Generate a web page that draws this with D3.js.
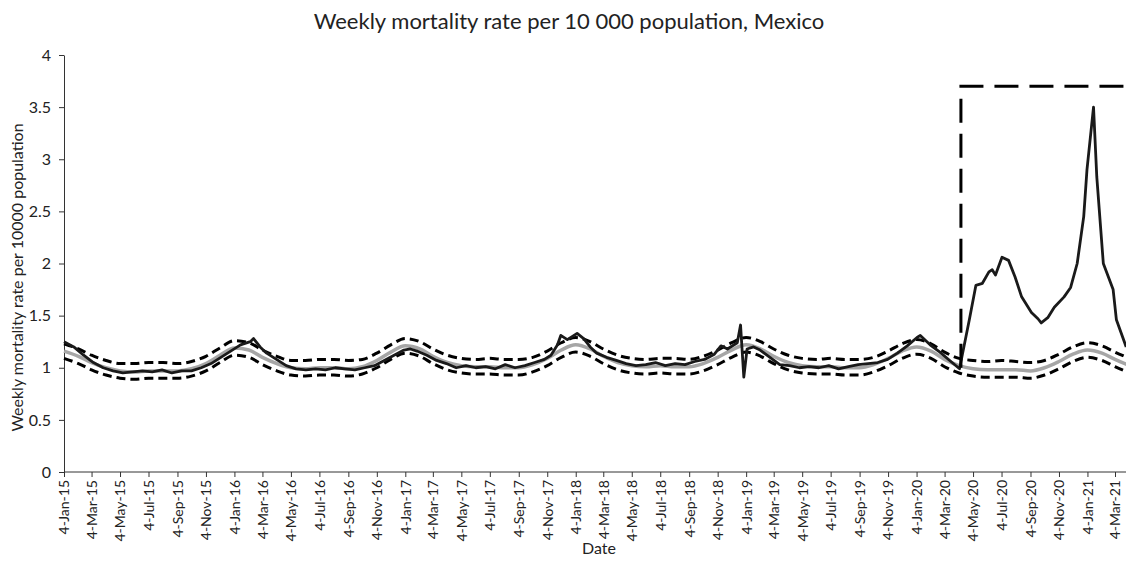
<!DOCTYPE html>
<html>
<head>
<meta charset="utf-8">
<script src="https://cdn.jsdelivr.net/npm/d3@7"></script>
<style>
  body { margin: 0; background: white; }
  svg { font-family: Lato, "Open Sans", sans-serif; }
</style>
</head>
<body>
<main></main>
<script>
// monthly baseline dates (expected + limits)
const baseDates = [
  "2015-01-04","2015-02-04","2015-03-04","2015-04-04","2015-05-04","2015-06-04","2015-07-04","2015-08-04","2015-09-04","2015-10-04","2015-11-04","2015-12-04",
  "2016-01-04","2016-02-04","2016-03-04","2016-04-04","2016-05-04","2016-06-04","2016-07-04","2016-08-04","2016-09-04","2016-10-04","2016-11-04","2016-12-04",
  "2017-01-04","2017-02-04","2017-03-04","2017-04-04","2017-05-04","2017-06-04","2017-07-04","2017-08-04","2017-09-04","2017-10-04","2017-11-04","2017-12-04",
  "2018-01-04","2018-02-04","2018-03-04","2018-04-04","2018-05-04","2018-06-04","2018-07-04","2018-08-04","2018-09-04","2018-10-04","2018-11-04","2018-12-04",
  "2019-01-04","2019-02-04","2019-03-04","2019-04-04","2019-05-04","2019-06-04","2019-07-04","2019-08-04","2019-09-04","2019-10-04","2019-11-04","2019-12-04",
  "2020-01-04","2020-02-04","2020-03-04","2020-04-04","2020-05-04","2020-06-04","2020-07-04","2020-08-04","2020-09-04","2020-10-04","2020-11-04","2020-12-04",
  "2021-01-04","2021-02-04","2021-03-04","2021-04-04"
]

const expected = [
  1.16,1.11,1.05,1.00,0.97,0.96,0.97,0.97,0.97,0.99,1.04,1.12,
  1.19,1.17,1.10,1.04,1.00,0.99,1.00,1.00,0.99,1.01,1.07,1.15,
  1.21,1.18,1.11,1.05,1.02,1.01,1.01,1.00,1.00,1.03,1.09,1.17,
  1.22,1.18,1.11,1.05,1.02,1.01,1.02,1.01,1.01,1.04,1.10,1.17,
  1.22,1.18,1.11,1.05,1.02,1.01,1.01,1.00,1.00,1.03,1.09,1.16,
  1.20,1.16,1.08,1.02,0.99,0.98,0.98,0.98,0.97,1.00,1.06,1.13,
  1.17,1.14,1.08,1.02
]

const upper = [
  1.23,1.18,1.12,1.07,1.04,1.04,1.05,1.05,1.04,1.06,1.11,1.19,
  1.26,1.24,1.17,1.11,1.07,1.07,1.08,1.08,1.07,1.08,1.14,1.22,
  1.28,1.25,1.18,1.12,1.09,1.08,1.09,1.08,1.08,1.10,1.16,1.24,
  1.29,1.25,1.18,1.12,1.09,1.08,1.09,1.09,1.08,1.11,1.17,1.24,
  1.29,1.25,1.18,1.12,1.09,1.08,1.09,1.08,1.08,1.10,1.16,1.23,
  1.27,1.23,1.15,1.09,1.07,1.06,1.07,1.06,1.05,1.07,1.13,1.20,
  1.24,1.21,1.15,1.09
]

const lower = [
  1.09,1.04,0.98,0.93,0.90,0.89,0.90,0.90,0.90,0.92,0.97,1.05,
  1.12,1.10,1.03,0.97,0.93,0.92,0.93,0.93,0.92,0.94,1.00,1.08,
  1.14,1.11,1.04,0.98,0.95,0.94,0.94,0.93,0.93,0.96,1.02,1.10,
  1.15,1.11,1.04,0.98,0.95,0.94,0.95,0.94,0.94,0.97,1.03,1.10,
  1.15,1.11,1.04,0.98,0.95,0.94,0.94,0.93,0.93,0.96,1.02,1.09,
  1.13,1.09,1.01,0.95,0.92,0.91,0.91,0.91,0.90,0.93,0.99,1.06,
  1.10,1.07,1.01,0.95
]

// observed weekly mortality, sampled
const obsDates = [
  "2015-01-04","2015-01-25","2015-02-15","2015-03-08","2015-03-29","2015-04-19","2015-05-10","2015-05-31","2015-06-21","2015-07-12","2015-08-02","2015-08-23","2015-09-13","2015-10-04","2015-10-25","2015-11-15","2015-12-06","2015-12-27",
  "2016-01-17","2016-02-07","2016-02-14","2016-02-28","2016-03-13","2016-04-03","2016-04-24","2016-05-15","2016-06-05","2016-06-26","2016-07-17","2016-08-07","2016-08-28","2016-09-18","2016-10-09","2016-10-30","2016-11-20","2016-12-11",
  "2017-01-01","2017-01-15","2017-01-29","2017-02-19","2017-03-12","2017-04-02","2017-04-23","2017-05-14","2017-06-04","2017-06-25","2017-07-16","2017-08-06","2017-08-27","2017-09-17","2017-10-08","2017-10-29","2017-11-12","2017-11-26","2017-12-03","2017-12-17",
  "2018-01-07","2018-01-21","2018-02-04","2018-02-18","2018-03-11","2018-04-01","2018-04-22","2018-05-13","2018-06-03","2018-06-24","2018-07-15","2018-08-05","2018-08-26","2018-09-16","2018-10-07","2018-10-28","2018-11-11","2018-11-25","2018-12-16","2018-12-23","2018-12-30",
  "2019-01-06","2019-01-20","2019-02-03","2019-02-24","2019-03-17","2019-04-07","2019-04-28","2019-05-19","2019-06-09","2019-06-30","2019-07-21","2019-08-11","2019-09-01","2019-09-22","2019-10-13","2019-11-03","2019-11-24","2019-12-15",
  "2020-01-05","2020-01-12","2020-02-02","2020-02-23","2020-03-15","2020-04-05","2020-04-26","2020-05-10","2020-05-24","2020-06-07","2020-06-14","2020-06-21","2020-07-05","2020-07-19","2020-08-02","2020-08-16","2020-09-06","2020-09-20","2020-09-27","2020-10-11","2020-10-25","2020-11-15","2020-11-29","2020-12-13","2020-12-27",
  "2021-01-03","2021-01-17","2021-01-24","2021-02-07","2021-02-28","2021-03-07","2021-03-28"
]

const observed = [
  1.25,1.20,1.12,1.05,1.00,0.97,0.95,0.96,0.97,0.96,0.98,0.95,0.97,0.97,1.00,1.04,1.10,1.16,
  1.22,1.25,1.28,1.20,1.14,1.08,1.02,0.99,0.98,0.99,0.98,1.00,0.99,0.98,1.00,1.02,1.07,1.12,
  1.17,1.18,1.16,1.12,1.07,1.04,1.00,1.02,1.00,1.01,0.99,1.03,1.00,1.02,1.05,1.08,1.12,1.22,1.31,1.27,
  1.33,1.28,1.20,1.14,1.10,1.07,1.04,1.02,1.03,1.05,1.02,1.04,1.03,1.06,1.08,1.13,1.21,1.18,1.24,1.41,0.91,
  1.18,1.20,1.17,1.10,1.03,1.02,1.00,1.01,1.00,1.02,0.99,1.01,1.03,1.04,1.05,1.08,1.14,1.21,
  1.29,1.31,1.22,1.15,1.07,0.99,1.46,1.79,1.81,1.92,1.94,1.89,2.06,2.03,1.87,1.68,1.53,1.47,1.43,1.48,1.58,1.68,1.77,2.00,2.45,
  2.90,3.50,2.83,2.00,1.75,1.46,1.20
]

// dashed box marking the pandemic period
const boxDates = ["2020-04-08","2020-04-08","2021-04-30"]
const boxValues = [1.0, 3.7, 3.7]

const tickDates = [
  "2015-01-04","2015-03-04","2015-05-04","2015-07-04","2015-09-04","2015-11-04",
  "2016-01-04","2016-03-04","2016-05-04","2016-07-04","2016-09-04","2016-11-04",
  "2017-01-04","2017-03-04","2017-05-04","2017-07-04","2017-09-04","2017-11-04",
  "2018-01-04","2018-03-04","2018-05-04","2018-07-04","2018-09-04","2018-11-04",
  "2019-01-04","2019-03-04","2019-05-04","2019-07-04","2019-09-04","2019-11-04",
  "2020-01-04","2020-03-04","2020-05-04","2020-07-04","2020-09-04","2020-11-04",
  "2021-01-04","2021-03-04"
]
const yTicks = [0, 0.5, 1, 1.5, 2, 2.5, 3, 3.5, 4]

const svgWidth = 1126
const svgHeight = 565
const plotLeft = 64
const plotTop = 55
const plotBottom = 472

const parse = d3.utcParse("%Y-%m-%d")

let svg = d3.select("main")
    .append("svg")
    .attr("width", svgWidth)
    .attr("height", svgHeight)

//scales
let xScale = d3.scaleUtc()
    .domain([parse("2015-01-04"), parse("2021-03-04")])
    .range([plotLeft, 1115])

let yScale = d3.scaleLinear()
    .domain([0, 4])
    .range([plotBottom, plotTop])

//title
svg.append("text")
    .attr("x", 569)
    .attr("y", 29)
    .attr("text-anchor", "middle")
    .style("font-size", "22px")
    .attr("fill", "#222")
    .text("Weekly mortality rate per 10 000 population, Mexico")

//axes
let yAxis = svg.append("g")
    .attr("transform", `translate(${plotLeft}, 0)`)
    .call(d3.axisLeft(yScale).tickValues(yTicks).tickFormat(d3.format("")).tickSize(5).tickPadding(8).tickSizeOuter(0))

yAxis.select(".domain").attr("stroke", "#333")
yAxis.selectAll("line").attr("stroke", "#333")
yAxis.selectAll("text").style("font-size", "16px").attr("fill", "#222").style("font-family", "Lato")

let xAxis = svg.append("g")
    .attr("transform", `translate(0, ${plotBottom})`)
    .call(d3.axisBottom(xScale).tickValues(tickDates.map(parse)).tickFormat(d3.utcFormat("%-d-%b-%y")).tickSize(5).tickSizeOuter(0))

xAxis.select(".domain").remove()
xAxis.append("line")
    .attr("x1", plotLeft).attr("x2", svgWidth)
    .attr("stroke", "#333")
xAxis.selectAll(".tick line").attr("stroke", "#333")
xAxis.selectAll(".tick text")
    .attr("transform", "rotate(-90)")
    .attr("text-anchor", "end")
    .attr("x", -8)
    .attr("y", 0)
    .attr("dy", "0.35em")
    .style("font-size", "14px")
    .style("font-family", "Lato")
    .attr("fill", "#222")

//axis titles
svg.append("text")
    .attr("transform", `translate(23, ${(plotTop + plotBottom) / 2 + 14}) rotate(-90)`)
    .attr("text-anchor", "middle")
    .style("font-size", "16px")
    .attr("fill", "#222")
    .text("Weekly mortality rate per 10000 population")

svg.append("text")
    .attr("x", 599)
    .attr("y", 554)
    .attr("text-anchor", "middle")
    .style("font-size", "16px")
    .attr("fill", "#222")
    .text("Date")

//lines
let smooth = d3.line()
    .x((d, i) => xScale(parse(baseDates[i])))
    .y((d) => yScale(d))
    .curve(d3.curveMonotoneX)

let plot = svg.append("g")

plot.append("path")
    .attr("d", smooth(expected))
    .attr("fill", "none")
    .attr("stroke", "#a6a6a6")
    .attr("stroke-width", 3.5)

plot.append("path")
    .attr("d", smooth(upper))
    .attr("fill", "none")
    .attr("stroke", "#000")
    .attr("stroke-width", 3)
    .attr("stroke-dasharray", "9,5")

plot.append("path")
    .attr("d", smooth(lower))
    .attr("fill", "none")
    .attr("stroke", "#000")
    .attr("stroke-width", 3)
    .attr("stroke-dasharray", "9,5")

let obsLine = d3.line()
    .x((d, i) => xScale(parse(obsDates[i])))
    .y((d) => yScale(d))

plot.append("path")
    .attr("d", obsLine(observed))
    .attr("fill", "none")
    .attr("stroke", "#1a1a1a")
    .attr("stroke-width", 2.8)
    .attr("stroke-linejoin", "round")

let boxLine = d3.line()
    .x((d, i) => xScale(parse(boxDates[i])))
    .y((d) => yScale(d))

plot.append("path")
    .attr("d", boxLine(boxValues))
    .attr("fill", "none")
    .attr("stroke", "#000")
    .attr("stroke-width", 3)
    .attr("stroke-dasharray", "24,11")
</script>
</body>
</html>
